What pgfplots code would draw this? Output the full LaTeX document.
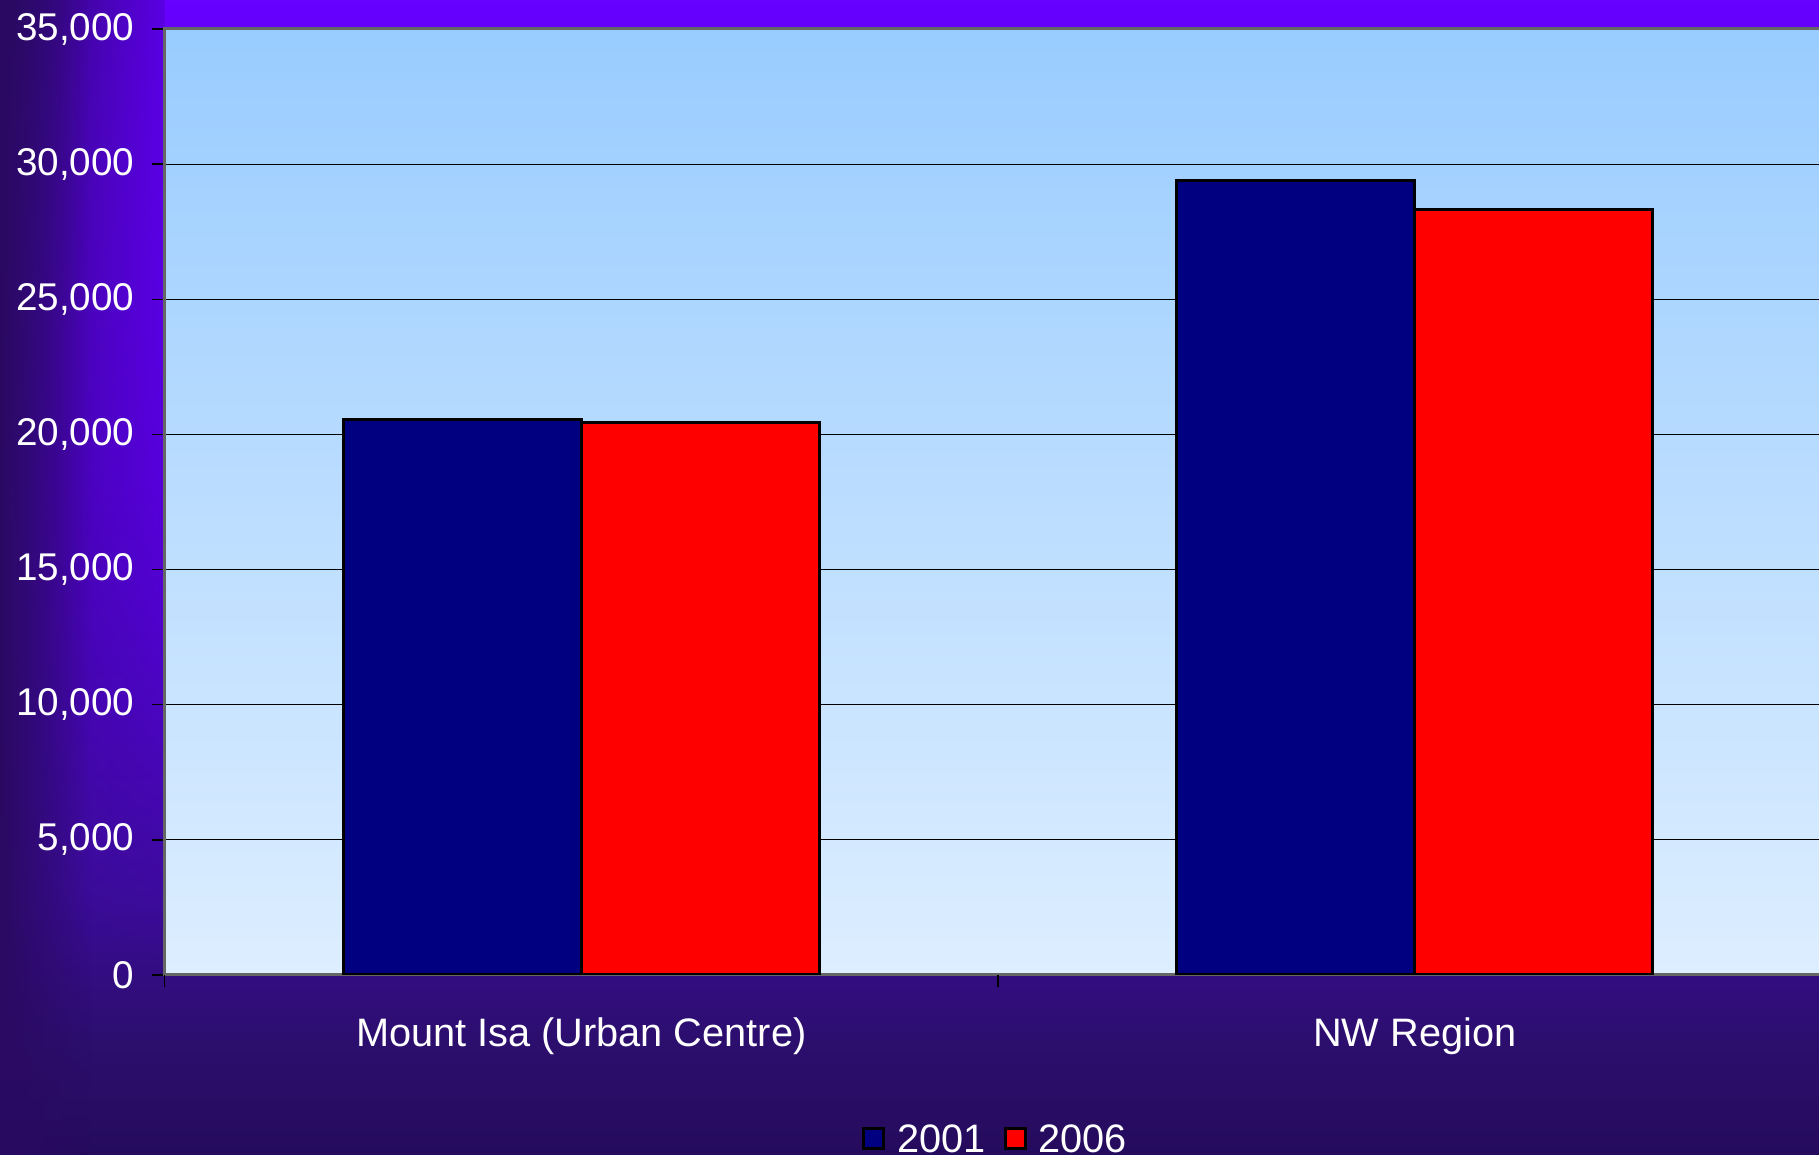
\documentclass[border=0pt]{standalone}
\usepackage{fontspec}
\setmainfont{Liberation Sans}
\usepackage{pgfplots}
\pgfplotsset{compat=1.18}
\usetikzlibrary{fadings}
\definecolor{bgA}{HTML}{250B5C}
\definecolor{bgB}{HTML}{2C0E6E}
\definecolor{bgC}{HTML}{3A0C96}
\definecolor{bgD}{HTML}{5200D4}
\definecolor{bgE}{HTML}{6600FF}
\definecolor{leftdark}{HTML}{2A0A62}
\definecolor{stripL}{HTML}{2A0A68}
\definecolor{stripR}{HTML}{5A00E4}
\definecolor{plotTop}{HTML}{99CCFF}
\definecolor{plotBot}{HTML}{DDEEFF}
\definecolor{navybar}{HTML}{000080}
\definecolor{redbar}{HTML}{FF0000}
\pgfdeclareverticalshading{bgshade}{100bp}{color(0bp)=(bgA); color(25bp)=(bgA); color(30bp)=(bgB); color(36bp)=(bgC); color(54bp)=(bgD); color(75bp)=(bgE); color(100bp)=(bgE)}
\tikzfading[name=fadeR, left color=transparent!0, right color=transparent!100]
\tikzfading[name=fadeUp, bottom color=transparent!100, middle color=transparent!10, top color=transparent!0]
\begin{document}
\begin{tikzpicture}
\path[use as bounding box] (0,0) rectangle (181.9mm,115.5mm);
\clip (0,0) rectangle (181.9mm,115.5mm);
\shade[shading=bgshade] (0,0) rectangle (181.9mm,115.5mm);
\shade[left color=stripL, right color=stripR, path fading=fadeUp] (0,18mm) rectangle (16.5mm,115.5mm);
\fill[leftdark, path fading=fadeR] (0,0) rectangle (9mm,115.5mm);
\begin{axis}[
  at={(16.45mm,18mm)}, anchor=south west,
  scale only axis, width=166.7mm, height=94.6mm,
  xmin=-0.5, xmax=1.5, ymin=0, ymax=35000,
  ybar=0pt, bar width=23.8mm,
  axis background/.style={shade, top color=plotTop, bottom color=plotBot},
  axis line style={draw=gray!80!black, line width=0.3mm},
  ytick={0,5000,...,35000},
  scaled y ticks=false,
  /pgf/number format/.cd, fixed, 1000 sep={,}, assume math mode=true, /pgfplots/.cd,
  ymajorgrids, grid style={black, line width=0.12mm},
  tick align=outside, tick pos=left,
  major tick length=1.25mm,
  ytick style={draw=black, line width=0.15mm},
  xtick={0,1},
  xticklabels={Mount Isa (Urban Centre), NW Region},
  xtick style={draw=none},
  extra x ticks={-0.5,0.5,1.5},
  extra x tick labels={},
  extra x tick style={xtick style={draw=black, line width=0.15mm}},
  yticklabel style={font=\fontsize{11pt}{13pt}\selectfont, text=white, anchor=east, inner sep=0pt, xshift=-1.7mm},
  xticklabel style={font=\fontsize{11.3pt}{13pt}\selectfont, text=white, anchor=base, yshift=-5.9mm},
  legend style={at={(axis description cs:0.5,-0.176)}, anchor=center, draw=none, fill=none,
    font=\fontsize{11.3pt}{13pt}\selectfont, text=white, legend columns=2,
    /tikz/every odd column/.append style={column sep=0.5mm},
    /tikz/every even column/.append style={column sep=1.1mm}},
  mylegend/.style={legend image code/.code={\draw[##1, line width=0.3mm] (0mm,-0.7mm) rectangle (2.0mm,1.3mm);}},
]
\addplot[fill=navybar, draw=black, line width=0.3mm, mylegend] coordinates {(0,20550) (1,29400)};
\addplot[fill=redbar, draw=black, line width=0.3mm, mylegend] coordinates {(0,20450) (1,28320)};
\legend{2001,2006}
\end{axis}
\end{tikzpicture}
\end{document}
